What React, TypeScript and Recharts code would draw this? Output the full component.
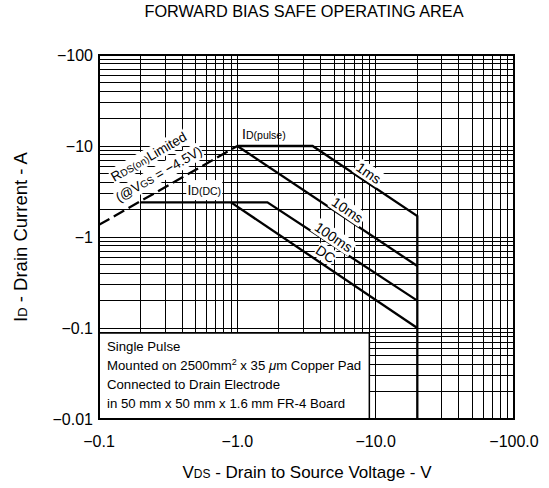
import React from 'react';
import { LineChart, Line, XAxis, YAxis, CartesianGrid, ReferenceDot, ReferenceArea } from 'recharts';

const FONT = '"Liberation Sans", Arial, Helvetica, sans-serif';

// grid structure (log decades)
const xDecades = [0.1, 1, 10];
const yDecades = [0.01, 0.1, 1, 10];
const gridSteps = [1, 2, 3, 4, 5, 6, 7, 8, 9];

// tick labels
const xLabelValues = [0.1, 1, 10, 100];
const xLabelTexts = ['−0.1', '−1.0', '−10.0', '−100.0'];
const yLabelValues = [0.01, 0.1, 1, 10, 100];
const yLabelTexts = ['−0.01', '−0.1', '−1', '−10', '−100'];

// series (|VDS| in V, |ID| in A)
const rdsLimited = [
  { v: 0.1, i: 1.36 },
  { v: 1, i: 10 },
];
const pulse1ms = [
  { v: 1, i: 10 },
  { v: 3.5, i: 10 },
  { v: 20, i: 1.7 },
  { v: 20, i: 0.01 },
];
const pulse10ms = [
  { v: 1, i: 10 },
  { v: 20, i: 0.48 },
];
const pulse100ms = [
  { v: 0.2, i: 2.4 },
  { v: 1.65, i: 2.4 },
  { v: 20, i: 0.2 },
];
const dcLine = [
  { v: 0.9, i: 2.4 },
  { v: 20, i: 0.1 },
];

// curve labels
const curveLabels = [
  { text: '1ms', v: 8.9, i: 5.05 },
  { text: '10ms', v: 6.26, i: 1.98 },
  { text: '100ms', v: 4.97, i: 1.0 },
  { text: 'DC', v: 4.35, i: 0.65 },
];

const noteLines = [
  'Single Pulse',
  'Mounted on 2500mm',
  'Connected to Drain Electrode',
  'in 50 mm x 50 mm x 1.6 mm FR-4 Board',
];

const xGrid = [...xDecades.flatMap((d) => gridSteps.map((s) => Number((d * s).toPrecision(6)))), 100];
const yGrid = [...yDecades.flatMap((d) => gridSteps.map((s) => Number((d * s).toPrecision(6)))), 100];

const near = (a: number, b: number) => Math.abs(a - b) < 1e-9 * Math.max(1, b);

const XTick = (props: any) => {
  const { x, y, payload } = props;
  const idx = xLabelValues.findIndex((v) => near(payload.value, v));
  if (idx < 0) return <g />;
  return (
    <text x={x} y={y} dy={28} textAnchor="middle" fontSize={16} fontFamily={FONT} fill="#000">
      {xLabelTexts[idx]}
    </text>
  );
};

const YTick = (props: any) => {
  const { x, y, payload } = props;
  const idx = yLabelValues.findIndex((v) => near(payload.value, v));
  if (idx < 0) return <g />;
  return (
    <text x={x - 6} y={y} dy={6} textAnchor="end" fontSize={16} fontFamily={FONT} fill="#000">
      {yLabelTexts[idx]}
    </text>
  );
};

const curveLabelShape = (text: string) => (p: any) => {
  const size = 14;
  const w = text.length * size * 0.6 + 4;
  const h = size + 2;
  return (
    <g transform={`translate(${p.cx},${p.cy}) rotate(34)`}>
      <rect x={-w / 2} y={-h / 2} width={w} height={h} fill="#fff" />
      <text x={0} y={size * 0.36} textAnchor="middle" fontSize={size} fontFamily={FONT} fill="#000">
        {text}
      </text>
    </g>
  );
};

const rdsShape = (p: any) => (
  <g transform={`translate(${p.cx},${p.cy}) rotate(-30)`}>
    <rect x={-43} y={-19} width={86} height={16} fill="#fff" />
    <rect x={-49} y={1} width={98} height={17} fill="#fff" />
    <text x={0} y={-6} textAnchor="middle" fontSize={13.5} fontFamily={FONT} fill="#000">
      R<tspan fontSize={10}>DS(on)</tspan>Limited
    </text>
    <text x={0} y={14} textAnchor="middle" fontSize={13.5} fontFamily={FONT} fill="#000">
      (@V<tspan fontSize={10}>GS</tspan> = −4.5V)
    </text>
  </g>
);

const pulseLabelShape = (p: any) => (
  <text x={p.cx} y={p.cy} dy={5} textAnchor="middle" fontSize={14} fontFamily={FONT} fill="#000">
    I<tspan fontSize={10.5}>D(pulse)</tspan>
  </text>
);

const dcLabelShape = (p: any) => (
  <g>
    <rect x={p.cx - 18} y={p.cy - 10} width={36} height={20} fill="#fff" />
    <text x={p.cx} y={p.cy} dy={5} textAnchor="middle" fontSize={14} fontFamily={FONT} fill="#000">
      I<tspan fontSize={10.5}>D(DC)</tspan>
    </text>
  </g>
);

const noteShape = (p: any) => (
  <g>
    {noteLines.map((t, k) => (
      <text key={k} x={p.cx + 8} y={p.cy + 18 + k * 19} fontSize={13.2} fontFamily={FONT} fill="#000">
        {t}
        {k === 1 ? (
          <>
            <tspan fontSize={9} dy={-5}>2</tspan>
            <tspan dy={5}> x 35 </tspan>
            <tspan fontStyle="italic">μ</tspan>
            <tspan>m Copper Pad</tspan>
          </>
        ) : null}
      </text>
    ))}
  </g>
);

export default function App() {
  return (
    <div style={{ position: 'absolute', left: 0, top: 0, width: 549, height: 488, background: '#fff' }}>
      <LineChart width={549} height={488} margin={{ top: 55, right: 35, left: 39, bottom: 0 }}>
        <CartesianGrid stroke="#000" strokeWidth={1} shapeRendering="crispEdges" />
        <XAxis
          type="number"
          dataKey="v"
          scale="log"
          domain={[0.1, 100]}
          ticks={xGrid}
          interval={0}
          allowDataOverflow
          tick={(props: any) => <XTick {...props} />}
          tickLine={false}
          axisLine={false}
          tickSize={0}
          tickMargin={0}
          height={69}
        />
        <YAxis
          type="number"
          dataKey="i"
          scale="log"
          domain={[0.01, 100]}
          ticks={yGrid}
          interval={0}
          allowDataOverflow
          tick={(props: any) => <YTick {...props} />}
          tickLine={false}
          axisLine={false}
          tickSize={0}
          tickMargin={0}
          width={60}
        />
        <ReferenceArea x1={0.1} x2={9} y1={0.01} y2={0.088} fill="#fff" fillOpacity={1} stroke="#000" strokeWidth={1.5} />
        <Line data={rdsLimited} dataKey="i" stroke="#000" strokeWidth={2.3} strokeDasharray="12 5" dot={false} isAnimationActive={false} />
        <Line data={pulse1ms} dataKey="i" stroke="#000" strokeWidth={2.3} dot={false} isAnimationActive={false} />
        <Line data={pulse10ms} dataKey="i" stroke="#000" strokeWidth={2.3} dot={false} isAnimationActive={false} />
        <Line data={pulse100ms} dataKey="i" stroke="#000" strokeWidth={2.3} dot={false} isAnimationActive={false} />
        <Line data={dcLine} dataKey="i" stroke="#000" strokeWidth={2.3} dot={false} isAnimationActive={false} />
        <ReferenceArea x1={0.1} x2={100} y1={0.01} y2={100} fill="none" stroke="#000" strokeWidth={2} />
        {curveLabels.map((c) => (
          <ReferenceDot key={c.text} x={c.v} y={c.i} r={0} shape={curveLabelShape(c.text)} />
        ))}
        <ReferenceDot x={0.25} y={6.03} r={0} shape={rdsShape} />
        <ReferenceDot x={1.556} y={13.5} r={0} shape={pulseLabelShape} />
        <ReferenceDot x={0.577} y={3.28} r={0} shape={dcLabelShape} />
        <ReferenceDot x={0.1} y={0.088} r={0} shape={noteShape} />
      </LineChart>
      <svg width={549} height={488} style={{ position: 'absolute', left: 0, top: 0, pointerEvents: 'none' }}>
        <text x={304} y={17} textAnchor="middle" fontSize={16.3} fontFamily={FONT} fill="#000">
          FORWARD BIAS SAFE OPERATING AREA
        </text>
        <text x={307} y={478} textAnchor="middle" fontSize={17} fontFamily={FONT} fill="#000">
          V<tspan fontSize={12}>DS</tspan> - Drain to Source Voltage - V
        </text>
        <text x={27} y={237} transform="rotate(-90 27 237)" textAnchor="middle" fontSize={18.5} fontFamily={FONT} fill="#000">
          I<tspan fontSize={13}>D</tspan> - Drain Current - A
        </text>
      </svg>
    </div>
  );
}
